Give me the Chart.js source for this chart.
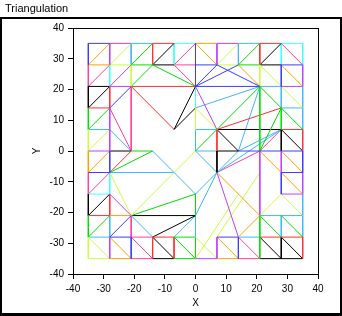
<!DOCTYPE html>
<html><head><meta charset="utf-8">
<script src="https://cdn.jsdelivr.net/npm/chart.js@4/dist/chart.umd.min.js"></script>
<style>html,body{margin:0;padding:0;background:#fff;}canvas{display:block;}</style>
</head><body>
<canvas id="c" width="342" height="316"></canvas>
<script>
const chartTitle = 'Triangulation';
const xTicks = [-40,-30,-20,-10,0,10,20,30,40];
const yTicks = [-40,-30,-20,-10,0,10,20,30,40];

// triangulation edges [x1,y1,x2,y2], grouped by drawn colour
const blueEdges = [[-35,35,-28,35],[-35,35,-35,28],[0,35,0,28],[0,28,7,28],[0,28,0,21],[0,21,7,28],[0,21,14,28],[7,28,21,21],[0,21,21,21],[28,28,35,28],[28,28,28,21],[-28,14,-21,21],[-35,-7,-28,-7],[-28,0,-28,-7],[-28,-28,-21,-21],[-28,-28,-21,-28],[-21,-28,-21,-35],[14,0,35,0],[35,0,35,-7],[28,-7,35,-7],[28,-7,28,-14],[7,-28,14,-28],[14,-28,14,-35]];
const orangeEdges = [[-35,28,-28,35],[-35,28,-28,28],[0,35,7,35],[0,35,7,28],[14,28,21,21],[28,28,35,21],[-35,-7,-28,0],[-35,0,-35,-7],[21,0,28,-7],[28,-7,35,-14],[28,0,35,-7],[7,-7,21,-21],[21,-21,14,-28],[-28,-21,-21,-21],[-28,-28,-21,-35],[-28,-35,-21,-35],[7,-28,14,-35],[7,-35,14,-35]];
const violetEdges = [[-28,35,-21,35],[-28,35,-28,28],[7,35,14,35],[7,35,7,28],[-28,21,-21,28],[-28,21,-21,21],[0,21,7,7],[28,21,35,21],[35,28,35,21],[-28,14,-28,7],[-28,7,-28,0],[-35,0,-28,0],[21,0,21,-21],[28,0,28,-7],[28,-14,35,-14],[35,-7,35,-14],[7,-7,14,-28],[-28,-14,-21,-21],[-28,-28,-28,-35],[7,-28,7,-35],[0,-35,7,-35]];
const yellowGreenEdges = [[-28,28,-21,35],[-28,28,-21,28],[-21,28,-21,21],[7,28,14,35],[7,28,14,28],[21,28,28,21],[21,28,21,21],[28,21,35,14],[0,14,7,7],[0,14,0,7],[-35,0,-28,7],[-35,7,-35,0],[-28,-7,-21,-21],[-21,-21,-7,-7],[21,-21,28,-14],[28,-14,35,-21],[-35,-28,-28,-35],[-35,-35,-28,-35],[-35,-28,-35,-35],[-7,-7,0,0],[0,-28,7,-35],[0,-35,14,-14],[7,-28,21,-7]];
const greenEdges = [[-21,28,-14,35],[-21,28,-14,28],[14,28,21,35],[14,28,21,28],[-21,21,-14,28],[-14,28,0,21],[21,21,7,7],[21,21,21,0],[21,21,28,14],[28,14,21,0],[28,14,35,7],[28,14,28,7],[-35,14,-35,7],[-35,7,-28,14],[-21,0,-14,0],[-28,-7,-14,0],[0,0,7,7],[-21,-21,0,-14],[0,-14,0,-21],[-35,-21,-35,-28],[-35,-28,-28,-21],[-7,-28,0,-35],[-7,-35,0,-35],[0,-28,0,-35],[-7,-28,0,-28],[21,-21,28,-28],[28,-21,35,-28],[21,-21,21,-35]];
const redEdges = [[-14,35,-7,35],[-14,35,-14,28],[21,35,28,35],[21,35,21,28],[-21,21,0,21],[-28,21,-28,14],[-35,14,-28,14],[-21,21,-7,7],[7,7,28,14],[28,7,35,7],[35,7,35,0],[-28,-7,-21,0],[-28,-14,-28,-21],[-35,-21,-28,-21],[-14,-28,-7,-28],[-14,-28,-14,-35],[-7,-28,-7,-35],[21,-28,35,-28],[35,-28,35,-35],[7,7,7,0]];
const blackEdges = [[-14,28,-7,35],[-14,28,-7,28],[21,28,28,35],[21,28,28,28],[-35,21,-28,21],[-35,21,-35,14],[-35,14,-28,21],[0,21,-7,7],[0,14,-7,7],[7,7,28,7],[28,7,35,0],[28,7,28,0],[7,7,14,0],[7,0,7,-7],[7,0,14,0],[-28,0,-21,0],[-35,-21,-28,-14],[-35,-14,-35,-21],[-21,-21,0,-21],[-14,-28,0,-21],[-14,-28,-7,-35],[-14,-35,-7,-35],[21,-28,28,-35],[28,-28,35,-35],[21,-35,35,-35],[28,-28,28,-35]];
const skyBlueEdges = [[-21,35,-14,35],[-21,35,-21,28],[14,35,21,35],[14,35,14,28],[21,21,0,14],[21,21,14,0],[21,21,28,21],[28,21,28,14],[28,14,35,14],[35,21,35,14],[35,14,35,7],[-35,7,-28,7],[-28,7,-21,0],[-14,0,-7,-7],[-28,-7,-7,-7],[0,7,0,0],[0,0,7,0],[0,7,7,7],[7,-7,28,7],[14,0,28,7],[7,-7,14,0],[7,-7,0,-21],[7,-7,0,-14],[7,-7,0,0],[-7,-7,0,-14],[21,-21,35,-21],[-28,-21,-28,-28],[-35,-28,-28,-28],[-21,-21,-14,-28],[-7,-28,0,-21],[0,-21,0,-28],[14,-28,21,-28],[28,-21,28,-28],[35,-21,35,-28],[35,-14,35,-21]];
const cyanEdges = [[-7,35,0,35],[-7,35,-7,28],[28,35,35,35],[28,35,28,28],[35,35,35,28],[-28,28,-28,21],[-35,-14,-28,-14],[-28,-7,-28,-14],[0,21,0,14]];
const pinkEdges = [[-7,28,0,35],[-7,28,0,28],[28,35,35,28],[-7,28,0,21],[-35,28,-35,21],[-35,21,-28,28],[-28,14,-21,0],[-21,21,-21,0],[21,0,28,7],[21,0,7,-7],[-35,-7,-35,-14],[-35,-14,-28,-7],[-21,-21,-21,-28],[-21,-28,-14,-35],[-21,-35,-14,-35],[-21,-28,-14,-28],[14,-28,21,-35],[14,-35,21,-35]];

const edgeGroups = [
  [blueEdges, '#3c3cff'], [orangeEdges, '#ffa000'], [violetEdges, '#c040ff'],
  [yellowGreenEdges, '#c8ff40'], [greenEdges, '#00e000'], [redEdges, '#ff3030'],
  [blackEdges, '#000000'], [skyBlueEdges, '#40b8ff'], [cyanEdges, '#40ffff'], [pinkEdges, '#ff40a0']
];

const datasets = [];
edgeGroups.forEach(([edges, color]) => {
  edges.forEach(e => {
    datasets.push({
      data: [{x: e[0], y: e[1]}, {x: e[2], y: e[3]}],
      borderColor: color, backgroundColor: color, borderWidth: 1,
      showLine: true, pointRadius: 0, pointHoverRadius: 0, fill: false, tension: 0
    });
  });
});

const tickFont = {family: 'Liberation Sans', size: 10};

const framePlugin = {
  id: 'frame',
  beforeDraw(chart) {
    const ctx = chart.ctx;
    ctx.save();
    ctx.fillStyle = '#ffffff';
    ctx.fillRect(0, 0, chart.width, chart.height);
    ctx.fillStyle = '#000000';
    ctx.fillRect(0, 17, 342, 2);
    ctx.fillRect(0, 17, 2, 298);
    ctx.fillRect(340, 17, 2, 298);
    ctx.fillRect(0, 313, 342, 3);
    ctx.restore();
  },
  afterDraw(chart) {
    const ctx = chart.ctx;
    ctx.save();
    ctx.strokeStyle = '#000';
    ctx.lineWidth = 1;
    ctx.beginPath();
    ctx.moveTo(73, 28.5); ctx.lineTo(319, 28.5);
    ctx.moveTo(318.5, 28); ctx.lineTo(318.5, 275);
    ctx.stroke();
    ctx.restore();
  }
};

new Chart(document.getElementById('c'), {
  type: 'scatter',
  data: {datasets},
  options: {
    responsive: false,
    animation: false,
    events: [],
    layout: {padding: {left: 5, right: 24, top: 0, bottom: 0}},
    plugins: {
      legend: {display: false},
      tooltip: {enabled: false},
      title: {display: true, text: chartTitle, align: 'start', color: '#000',
              font: {family: 'Liberation Sans', size: 11, weight: 'normal'},
              padding: {top: 2, bottom: 12.8}}
    },
    scales: {
      x: {
        type: 'linear', min: -40, max: 40,
        afterBuildTicks: s => { s.ticks = xTicks.map(v => ({value: v})); },
        afterFit: s => { s.height = 42; },
        ticks: {color: '#000', font: tickFont, padding: 4, maxRotation: 0, autoSkip: false},
        grid: {display: true, drawOnChartArea: false, drawTicks: true, tickLength: 5, color: '#000'},
        border: {display: true, color: '#000'},
        title: {display: true, text: 'X', color: '#000', font: tickFont, padding: {top: 0, bottom: 6.4}}
      },
      y: {
        type: 'linear', min: -40, max: 40,
        afterBuildTicks: s => { s.ticks = yTicks.map(v => ({value: v})); },
        afterFit: s => { s.width = 68; },
        ticks: {color: '#000', font: tickFont, padding: 4, autoSkip: false},
        grid: {display: true, drawOnChartArea: false, drawTicks: true, tickLength: 5, color: '#000'},
        border: {display: true, color: '#000'},
        title: {display: true, text: 'Y', color: '#000', font: tickFont, padding: {top: 26, bottom: 0}}
      }
    }
  },
  plugins: [framePlugin]
});
</script>
</body></html>
